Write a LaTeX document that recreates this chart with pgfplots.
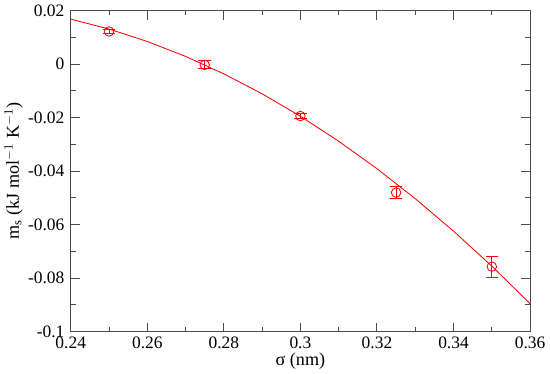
\documentclass[border=0pt]{standalone}
\usepackage{pgfplots}
\pgfplotsset{compat=1.18}
\usepackage{fontspec}
\setmainfont{Liberation Serif}
\begin{document}
\begin{tikzpicture}
\begin{axis}[
  width=329pt, height=230pt, scale only axis,
  xmin=0.24, xmax=0.36, ymin=-0.1, ymax=0.02,
  xtick={0.24,0.26,0.28,0.3,0.32,0.34,0.36},
  xticklabels={0.24,0.26,0.28,0.3,0.32,0.34,0.36},
  ytick={-0.1,-0.08,-0.06,-0.04,-0.02,0,0.02},
  yticklabels={-0.1,-0.08,-0.06,-0.04,-0.02,0,0.02},
  minor x tick num=1, minor y tick num=1,
  tick align=inside, tick pos=both,
  major tick length=6.5pt, minor tick length=3.5pt,
  every tick/.style={black!70, line width=0.7pt},
  axis line style={black!70, line width=0.8pt},
  tick label style={font=\rmfamily\fontsize{12.5}{13}\selectfont},
  /pgf/number format/assume math mode=true,
  label style={font=\rmfamily\fontsize{13}{14}\selectfont},
  xlabel={σ (nm)},
  ylabel={m$_\mathrm{s}$ (kJ mol$^{-1}$ K$^{-1}$)},
  xlabel style={yshift=4pt},
  ylabel style={yshift=-3pt},
  yticklabel style={xshift=-1pt},
]
\addplot[red, line width=0.6pt, no marks] coordinates {
(0.24,0.01681) (0.25,0.01310) (0.26,0.00845) (0.27,0.00287) (0.28,-0.00365)
(0.29,-0.01111) (0.30,-0.01950) (0.31,-0.02883) (0.32,-0.03909) (0.33,-0.05029)
(0.34,-0.06243) (0.35,-0.07550) (0.36,-0.08951)
};
\addplot[red, only marks, mark=o, mark size=3.4pt, mark options={red, line width=0.6pt},
  error bars/.cd, y dir=both, y explicit,
  error bar style={red, line width=0.6pt},
  error mark options={red, rotate=90, mark size=4.5pt, line width=0.6pt}]
coordinates {
(0.25,0.0122) +- (0,0.0009)
(0.275,-0.0003) +- (0,0.0015)
(0.30,-0.0194) +- (0,0.0008)
(0.325,-0.0480) +- (0,0.0023)
(0.35,-0.0757) +- (0,0.0039)
};
\end{axis}
\end{tikzpicture}
\end{document}
